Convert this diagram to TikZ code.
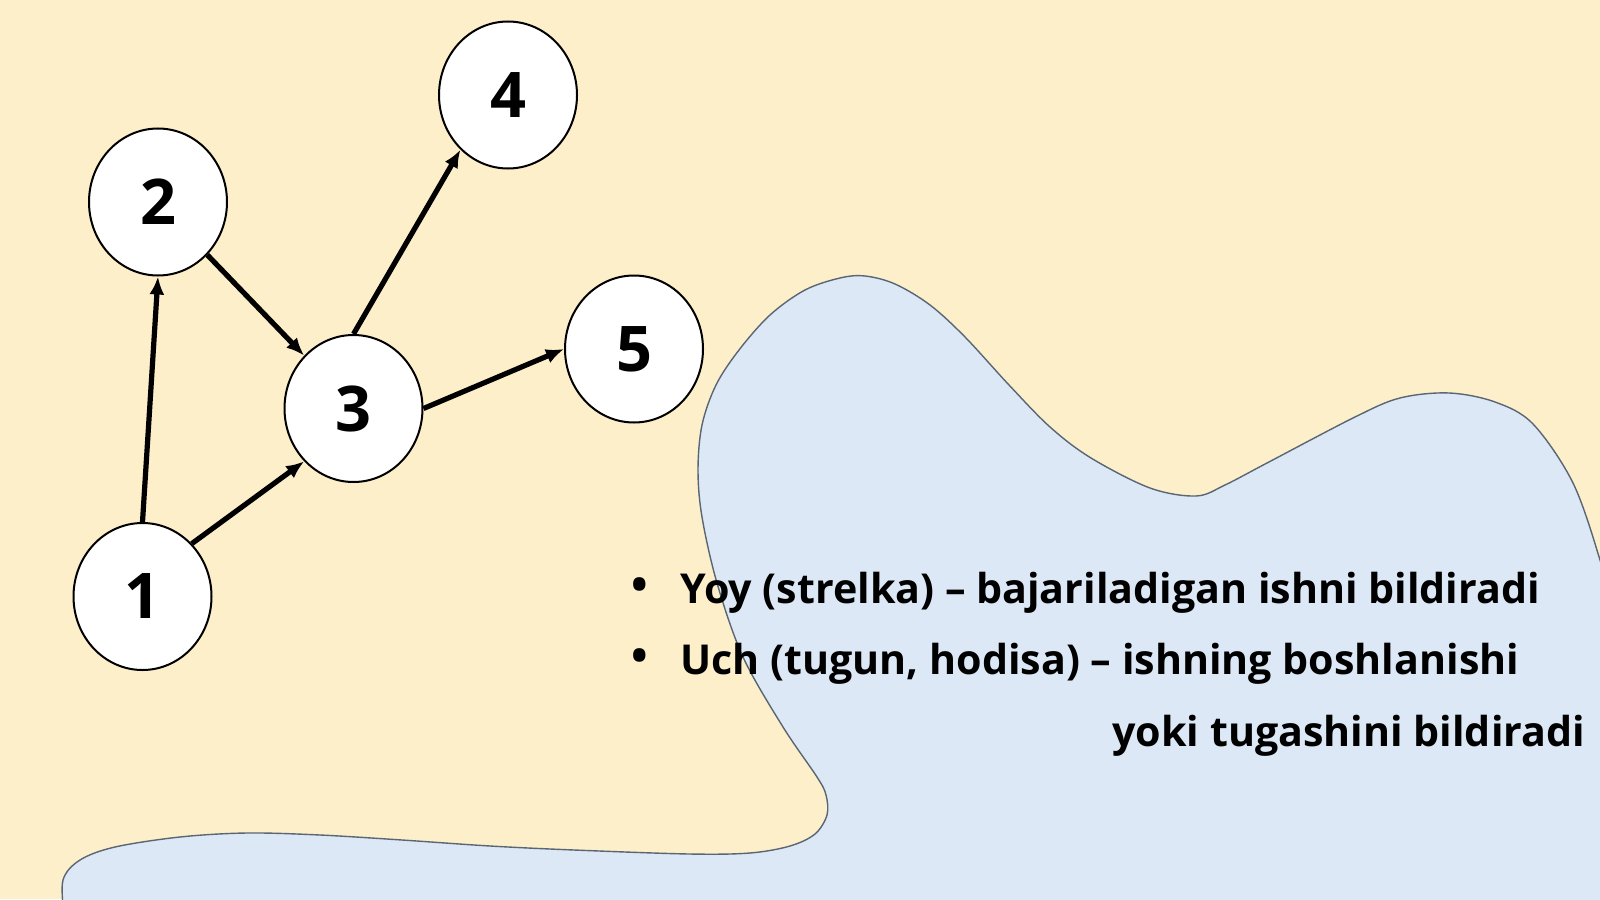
\documentclass[tikz,border=0pt]{standalone}
\usepackage{fontspec}
\setmainfont{Open Sans}
\usetikzlibrary{shapes.geometric,arrows.meta}
\definecolor{bgyellow}{HTML}{FCEFC9}
\definecolor{blobblue}{HTML}{DDE8F6}
\definecolor{blobline}{HTML}{5A6673}
\begin{document}
\begin{tikzpicture}[x=0.5pt,y=-0.5pt,
  vtx/.style={ellipse,draw=black,line width=1pt,fill=white,minimum width=69pt,minimum height=73.5pt,inner sep=0pt,font=\fontsize{31.5}{36}\selectfont\bfseries},
  edgearrow/.style={line width=2.6pt,-{Latex[length=9pt,width=7.5pt]}},
  bodytext/.style={anchor=base west,inner sep=0pt,font=\fontsize{20.6}{24}\selectfont\bfseries},
  bulletmark/.style={anchor=base,inner sep=0pt,font=\fontsize{22}{24}\selectfont\bfseries}]
\useasboundingbox (0,0) rectangle (1600,899);
\clip (0,0) rectangle (1600,899);
\fill[bgyellow] (0,0) rectangle (1600,899);
% blob
\fill[blobblue] plot[smooth,tension=0.55] coordinates {(64,915) (63,880) (80,860) (115,847) (180,837) (247,833) (320,835) (402,840) (490,846) (574,850) (689,854) (750,853) (790,846) (815,834) (827,815) (826,795) (817,777) (783,727) (743,657) (717,583) (702,517) (698,470) (702,425) (716,385) (739,350) (770,315) (805,290) (840,278) (865,276) (895,284) (930,305) (965,337) (1009,385) (1050,427) (1091,458) (1150,488) (1196,496) (1225,485) (1267,463) (1355,417) (1400,398) (1449,393) (1495,402) (1533,424) (1573,483) (1600,560) (1612,610)} -- (1640,940) -- (40,940) -- cycle;
\draw[blobline,line width=0.7pt] plot[smooth,tension=0.55] coordinates {(64,915) (63,880) (80,860) (115,847) (180,837) (247,833) (320,835) (402,840) (490,846) (574,850) (689,854) (750,853) (790,846) (815,834) (827,815) (826,795) (817,777) (783,727) (743,657) (717,583) (702,517) (698,470) (702,425) (716,385) (739,350) (770,315) (805,290) (840,278) (865,276) (895,284) (930,305) (965,337) (1009,385) (1050,427) (1091,458) (1150,488) (1196,496) (1225,485) (1267,463) (1355,417) (1400,398) (1449,393) (1495,402) (1533,424) (1573,483) (1600,560) (1612,610)};
% nodes
\node[vtx] (n1) at (142.5,596.5) {1};
\node[vtx] (n2) at (158,202) {2};
\node[vtx] (n3) at (353.5,408.5) {3};
\node[vtx] (n4) at (508,95) {4};
\node[vtx] (n5) at (634,349) {5};
\draw[edgearrow] (n1.north) -- (n2.south);
\draw[edgearrow] (n1.47) -- (n3.227);
\draw[edgearrow] (n2.313) -- (n3.133);
\draw[edgearrow] (n3.north) -- (n4.229);
\draw[edgearrow] (n3.east) -- (n5.west);
% text
\node[bulletmark] (b1) at (640,600) {•};
\node[bulletmark] (b2) at (640,671) {•};
\node[bodytext] (t1) at (680,603) {Yoy (strelka) – bajariladigan ishni bildiradi};
\node[bodytext] (t2) at (680,674) {Uch (tugun, hodisa) – ishning boshlanishi};
\node[bodytext] (t3) at (1112,746) {yoki tugashini bildiradi};
\end{tikzpicture}
\end{document}
